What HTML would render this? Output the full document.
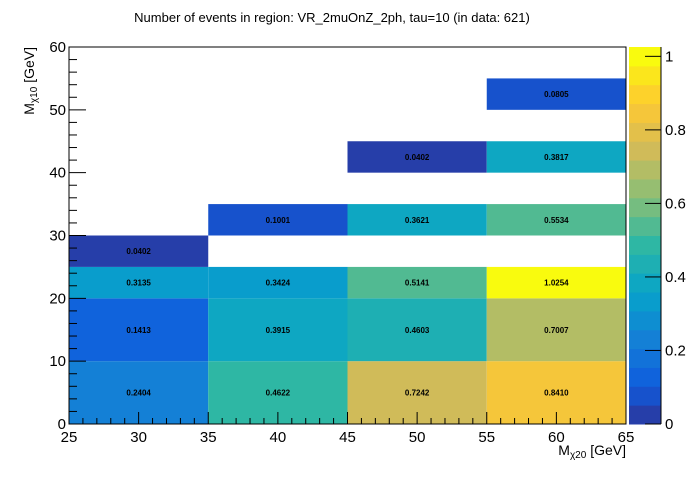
<!DOCTYPE html>
<html><head><meta charset="utf-8"><style>
body{margin:0;background:#fff;font-family:"Liberation Sans",sans-serif}
</style></head><body>
<svg id="c" width="696" height="472" xmlns="http://www.w3.org/2000/svg" font-family="Liberation Sans, sans-serif">
<text x="332" y="22" font-size="13" text-anchor="middle">Number of events in region: VR_2muOnZ_2ph, tau=10 (in data: 621)</text>
<g id="cells"></g><g id="axes"></g><g id="cbar"></g>
</svg>
<script>
const xEdgesLo=[25,35,45,55,25,35,45,55,25,35,45,55,25,35,45,55,45,55,55];
const yEdgesLo=[0,0,0,0,10,10,10,10,20,20,20,20,25,30,30,30,40,40,50];
const yEdgesHi=[10,10,10,10,20,20,20,20,25,25,25,25,30,35,35,35,45,45,55];
const values=[0.2404,0.4622,0.7242,0.8410,0.1413,0.3915,0.4603,0.7007,0.3135,0.3424,0.5141,1.0254,0.0402,0.1001,0.3621,0.5534,0.0402,0.3817,0.0805];
const xTicks=[25,30,35,40,45,50,55,60,65];
const yTicks=[0,10,20,30,40,50,60];
const zTicks=[0,0.2,0.4,0.6,0.8,1];
const X0=69,X1=626,Y0=424,Y1=47,ZMAX=1.0254,NC=20;
const sx=v=>X0+(v-25)/40*(X1-X0), sy=v=>Y0-(v/60)*(Y0-Y1), sz=v=>Y0-(v/ZMAX)*(Y0-Y1);
const R=[0.2082,0.0592,0.0780,0.0232,0.1802,0.5301,0.8186,0.9956,0.9764],
G=[0.1664,0.3599,0.5041,0.6419,0.7178,0.7492,0.7328,0.7862,0.9832],
B=[0.5293,0.8684,0.8385,0.7914,0.6425,0.4662,0.3499,0.1968,0.0539];
function pal(t){t=Math.max(0,Math.min(1,t));const p=t*8,i=Math.min(7,Math.floor(p)),f=p-i;
const c=a=>Math.round(255*(a[i]+(a[i+1]-a[i])*f));return `rgb(${c(R)},${c(G)},${c(B)})`;}
function bandCol(k){return pal((k+0.99)/NC);}
function band(v){let k=Math.min(NC-1,Math.floor(v/ZMAX*NC));return bandCol(k);}
const NS="http://www.w3.org/2000/svg";
function mk(t,a,p){const e=document.createElementNS(NS,t);for(const k in a)e.setAttribute(k,a[k]);p.appendChild(e);return e;}
const cells=document.getElementById('cells'),axes=document.getElementById('axes'),cb=document.getElementById('cbar');
values.forEach((v,i)=>{
 const x=sx(xEdgesLo[i]),x2=sx(xEdgesLo[i]+10),y=sy(yEdgesHi[i]),y2=sy(yEdgesLo[i]);
 const r=mk('rect',{x:x,y:y,width:x2-x,height:y2-y,fill:band(v)},cells);
 
 
 const t=mk('text',{x:(x+x2)/2,y:(y+y2)/2+3,'font-size':8,'font-weight':'bold','text-anchor':'middle'},cells);
 t.textContent=v.toFixed(4);
 
 
});
mk('rect',{x:X0,y:Y1,width:X1-X0,height:Y0-Y1,fill:'none',stroke:'#000','stroke-width':1},axes);
for(let v=25;v<=65;v+=1){const x=sx(v),L=v%5==0?12:6;mk('line',{x1:x,x2:x,y1:Y0,y2:Y0-L,stroke:'#000'},axes);}
for(let v=0;v<=60;v+=2){const y=sy(v),L=v%10==0?17:8;mk('line',{x1:X0,x2:X0+L,y1:y,y2:y,stroke:'#000'},axes);}
xTicks.forEach(v=>{const t=mk('text',{x:sx(v),y:Y0+18,'font-size':15,'text-anchor':'middle'},axes);t.textContent=v;
 
 });
yTicks.forEach(v=>{const t=mk('text',{x:X0-3,y:sy(v)+5,'font-size':15,'text-anchor':'end'},axes);t.textContent=v;
 
 });
const xl=mk('text',{x:X1,y:455,'font-size':14,'text-anchor':'end'},axes);
xl.innerHTML='M<tspan font-size="10" dy="3">χ20</tspan><tspan dy="-3"> [GeV]</tspan>';


const yl=mk('text',{x:0,y:0,'font-size':14,'text-anchor':'end',transform:'translate(34,47) rotate(-90)'},axes);
yl.innerHTML='M<tspan font-size="10" dy="3">χ10</tspan><tspan dy="-3"> [GeV]</tspan>';


for(let k=0;k<NC;k++){const a=sz(k*ZMAX/NC),b=sz((k+1)*ZMAX/NC);
 const r=mk('rect',{x:629,y:b,width:32,height:a-b+0.5,fill:bandCol(k)},cb);
 
 }
mk('line',{x1:661,x2:661,y1:Y1,y2:Y0,stroke:'#000'},cb);
zTicks.forEach(v=>{const y=sz(v);mk('line',{x1:645,x2:661,y1:y,y2:y,stroke:'#000'},cb);
 const t=mk('text',{x:665,y:y+5,'font-size':15},cb);t.textContent=v;
 
 });
</script>
</body></html>
